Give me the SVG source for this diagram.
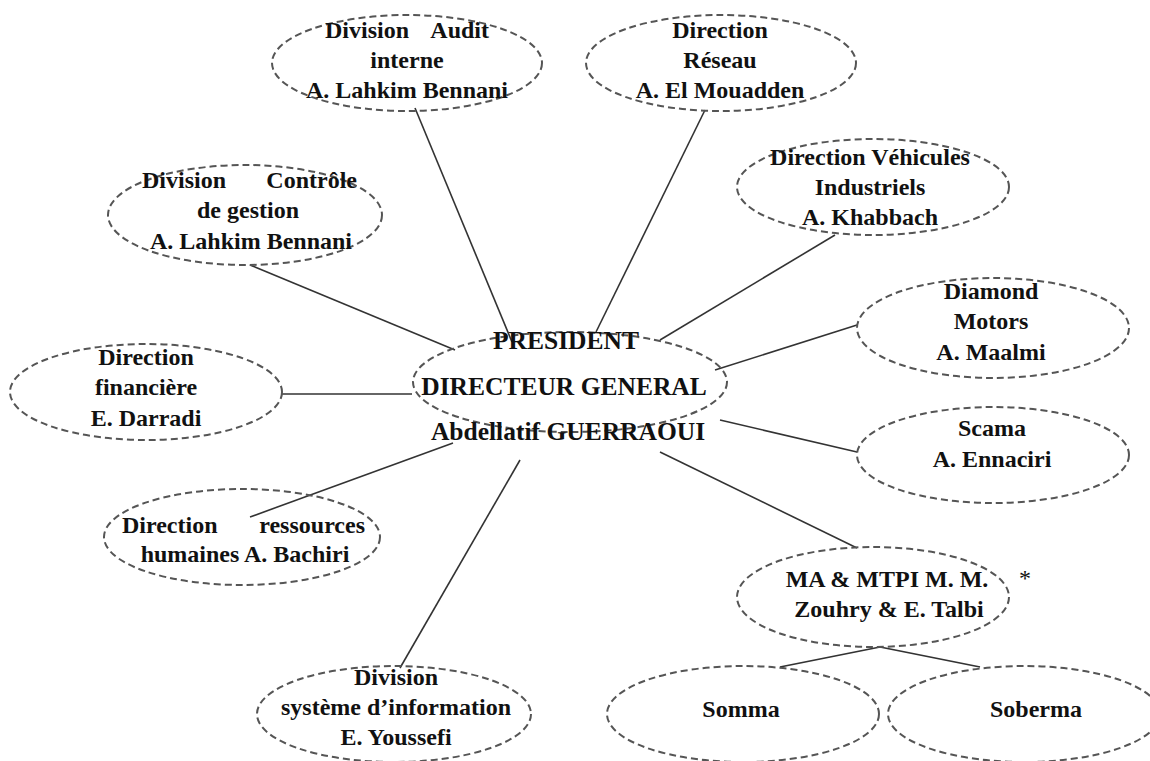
<svg xmlns="http://www.w3.org/2000/svg" width="1150" height="761" viewBox="0 0 1150 761">
<style>
.n ellipse{fill:none;stroke:#555;stroke-width:2;stroke-dasharray:7 4}
text{font-family:"Liberation Serif","Times New Roman",serif;font-weight:bold;font-size:24px;fill:#111;text-anchor:middle}
.s{text-anchor:start}.e{text-anchor:end}
.c line{stroke:#333;stroke-width:1.6}
</style>
<rect width="1150" height="761" fill="#fff"/>
<g class="c" id="connectors">
<line x1="415" y1="108" x2="512" y2="342"/>
<line x1="705" y1="110" x2="596" y2="332"/>
<line x1="835" y1="235" x2="660" y2="340"/>
<line x1="250" y1="265" x2="455" y2="350"/>
<line x1="857" y1="325" x2="715" y2="370"/>
<line x1="282" y1="394" x2="412" y2="394"/>
<line x1="720" y1="420" x2="857" y2="452"/>
<line x1="453" y1="443" x2="250" y2="517"/>
<line x1="520" y1="460" x2="400" y2="668"/>
<line x1="660" y1="452" x2="857" y2="548"/>
<line x1="880" y1="647" x2="780" y2="667"/>
<line x1="880" y1="647" x2="980" y2="667"/>
</g>
<g class="n" id="audit"><ellipse cx="407" cy="63" rx="135" ry="48"/>
<text class="s" x="325" y="38">Division</text><text class="e" x="489" y="38">Audit</text>
<text x="407" y="68">interne</text><text x="407" y="98">A. Lahkim Bennani</text></g>
<g class="n" id="reseau"><ellipse cx="721" cy="63" rx="135" ry="48"/>
<text x="720" y="38">Direction</text><text x="720" y="68">Réseau</text><text x="720" y="98">A. El Mouadden</text></g>
<g class="n" id="vehicules"><ellipse cx="873" cy="187" rx="136" ry="48"/>
<text x="870" y="165">Direction Véhicules</text><text x="870" y="195">Industriels</text><text x="870" y="225">A. Khabbach</text></g>
<g class="n" id="controle"><ellipse cx="245" cy="215" rx="137" ry="50"/>
<text class="s" x="142" y="188">Division</text><text class="e" x="357" y="188">Contrôle</text>
<text x="248" y="218">de gestion</text><text x="251" y="249">A. Lahkim Bennani</text></g>
<g class="n" id="diamond"><ellipse cx="993" cy="328" rx="136" ry="50"/>
<text x="991" y="299">Diamond</text><text x="991" y="329">Motors</text><text x="991" y="360">A. Maalmi</text></g>
<g class="n" id="financiere"><ellipse cx="146" cy="392" rx="136" ry="48"/>
<text x="146" y="365">Direction</text><text x="146" y="395">financière</text><text x="146" y="426">E. Darradi</text></g>
<g class="n" id="president"><ellipse cx="570" cy="382" rx="157" ry="50"/>
<text x="566" y="349" style="font-size:25.5px">PRESIDENT</text>
<text x="564" y="395" style="font-size:25.5px">DIRECTEUR GENERAL</text>
<text x="568" y="440" style="font-size:25.5px">Abdellatif GUERRAOUI</text></g>
<g class="n" id="scama"><ellipse cx="993" cy="455" rx="136" ry="48"/>
<text x="992" y="436">Scama</text><text x="992" y="467">A. Ennaciri</text></g>
<g class="n" id="rh"><ellipse cx="242" cy="537" rx="138" ry="48"/>
<text class="s" x="122" y="533">Direction</text><text class="e" x="365" y="533">ressources</text>
<text x="245" y="562">humaines A. Bachiri</text></g>
<g class="n" id="si"><ellipse cx="394" cy="714" rx="137" ry="48"/>
<text x="396" y="685">Division</text><text x="396" y="715">système d’information</text><text x="396" y="745">E. Youssefi</text></g>
<g class="n" id="ma"><ellipse cx="873" cy="597" rx="136" ry="50"/>
<text x="887" y="587">MA &amp; MTPI M. M.</text><text x="889" y="617">Zouhry &amp; E. Talbi</text></g>
<g class="n" id="somma"><ellipse cx="743" cy="714" rx="136" ry="48"/>
<text x="741" y="717">Somma</text></g>
<g class="n" id="soberma"><ellipse cx="1024" cy="714" rx="136" ry="48"/>
<text x="1036" y="717">Soberma</text></g>
<text x="1025" y="586" style="font-weight:normal;font-size:24px">*</text>
</svg>
